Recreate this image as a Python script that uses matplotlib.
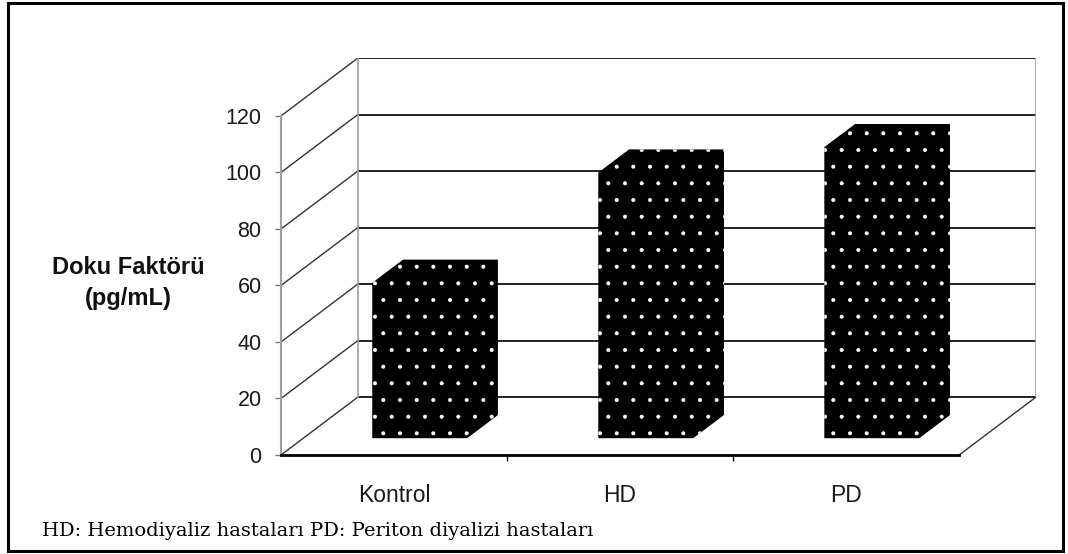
import matplotlib
matplotlib.use("Agg")
import matplotlib.pyplot as plt
from matplotlib.patches import Polygon, Rectangle
import numpy as np

# ---- data ----
categories = ["Kontrol", "HD", "PD"]
values = [55, 94, 103]
y_ticks = [0, 20, 40, 60, 80, 100, 120]
y_label = "Doku Faktörü\n(pg/mL)"
caption = "HD: Hemodiyaliz hastaları PD: Periton diyalizi hastaları"

W, H, DPI = 1068, 554, 100
plt.rcParams["font.family"] = ["Liberation Sans", "DejaVu Sans"]
plt.rcParams["hatch.linewidth"] = 0.45
fig = plt.figure(figsize=(W / DPI, H / DPI), dpi=DPI)
fig.patch.set_facecolor("white")

# pseudo-3D geometry (layout constants)
DX, DY = 0.34, 20.5      # depth offset of back wall (x in categories, y in values)
D0, D1 = 0.29, 0.69      # bar front / back depth fractions
BW = 0.42                # bar width in category units
n = len(categories)
ymax = max(y_ticks)

ax = fig.add_axes([281 / W, (H - 455) / H, (1036 - 281) / W, (455 - 58) / H])
ax.set_xlim(0, n + DX)
ax.set_ylim(0, ymax + DY)
for s in ax.spines.values():
    s.set_visible(False)
ax.patch.set_alpha(0)

# back wall gridlines and side wall diagonals
for v in y_ticks:
    ax.plot([DX, n + DX], [v + DY, v + DY], color="#111111", lw=1.3, zorder=1)
    ax.plot([0, DX], [v, v + DY], color="#333333", lw=1.0, zorder=1)
ax.plot([DX, DX], [DY, ymax + DY], color="#a0a0a0", lw=1.2, zorder=1)
ax.plot([n + DX, n + DX], [DY, ymax + DY], color="#a0a0a0", lw=1.2, zorder=1)
ax.plot([0, 0], [0, ymax], color="#a0a0a0", lw=1.5, zorder=2, clip_on=False)
ax.plot([n, n + DX], [0, DY], color="#333333", lw=1.0, zorder=1)
ax.plot([0, n], [0, 0], color="black", lw=2.0, zorder=3, clip_on=False)

# bars
for i, v in enumerate(values):
    xl = i + 0.515 - BW / 2
    xr = xl + BW
    pts = [(xl + D0 * DX, D0 * DY), (xr + D0 * DX, D0 * DY), (xr + D1 * DX, D1 * DY),
           (xr + D1 * DX, v + D1 * DY), (xl + D1 * DX, v + D1 * DY), (xl + D0 * DX, v + D0 * DY)]
    ax.add_patch(Polygon(pts, closed=True, facecolor="black", edgecolor="white",
                         lw=0, hatch=".", zorder=4))

# ticks
ax.set_yticks(y_ticks)
ax.set_yticklabels([str(t) for t in y_ticks])
ax.tick_params(axis="y", direction="out", length=4, width=1, color="#777777",
               pad=10, labelsize=15.5, labelcolor="#1a1a1a")
ax.set_xticks(np.arange(n) + 0.5)
ax.set_xticklabels(categories)
ax.set_xticks(np.arange(1, n), minor=True)
ax.tick_params(axis="x", which="major", length=0, pad=21, labelsize=16.5, labelcolor="#1a1a1a")
ax.tick_params(axis="x", which="minor", length=4, width=1, color="black")

# y label
fig.text(128 / W, 1 - 283 / H, y_label, ha="center", va="center",
         fontweight="bold", fontsize=17, linespacing=1.45, color="#111111")

# caption
fig.text(42 / W, 1 - 536 / H, caption, family="DejaVu Serif", fontsize=14,
         va="baseline", ha="left", color="black")

# outer border
fig.add_artist(Rectangle((8 / W, 3 / H), (1063 - 8) / W, (551 - 3) / H, fill=False,
                         lw=2.2, edgecolor="black", transform=fig.transFigure))

fig.savefig("out.png", dpi=DPI)
